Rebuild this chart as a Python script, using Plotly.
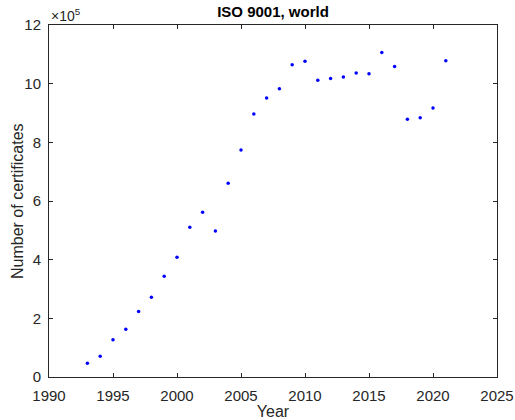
import plotly.graph_objects as go

# ISO 9001 certificates issued worldwide, per year
years = [1993, 1994, 1995, 1996, 1997, 1998, 1999, 2000, 2001, 2002, 2003,
         2004, 2005, 2006, 2007, 2008, 2009, 2010, 2011, 2012, 2013, 2014,
         2015, 2016, 2017, 2018, 2019, 2020, 2021]
certificates = [46600, 70400, 127400, 162700, 223300, 271800, 343600, 408600,
                510600, 561700, 497900, 660100, 773900, 896900, 951500,
                982800, 1064800, 1076500, 1011600, 1017300, 1022900, 1036300,
                1033900, 1105900, 1058500, 878700, 883500, 916800, 1077900]

scale = 1e5
x_ticks = [1990, 1995, 2000, 2005, 2010, 2015, 2020, 2025]
y_ticks = [0, 2, 4, 6, 8, 10, 12]

ink = "#262626"
font = "Liberation Sans, Arial, Helvetica, sans-serif"

W, H = 515, 420
L, R, T, B = 49, 18, 25, 43
plot_w = W - L - R

fig = go.Figure(
    go.Scatter(
        x=years,
        y=[c / scale for c in certificates],
        mode="markers",
        marker=dict(color="#0000ff", size=3.5, line=dict(width=0)),
    )
)

axis_common = dict(
    showgrid=False,
    zeroline=False,
    showline=True,
    linecolor=ink,
    linewidth=1,
    mirror="allticks",
    ticks="inside",
    ticklen=4,
    tickcolor=ink,
    automargin=False,
    tickfont=dict(family=font, size=15, color=ink),
)

fig.update_xaxes(
    range=[1990, 2025],
    tickvals=x_ticks,
    ticklabelstandoff=5,
    title=dict(text="Year", font=dict(family=font, size=16, color=ink), standoff=3),
    **axis_common,
)
fig.update_yaxes(
    range=[0, 12],
    tickvals=y_ticks,
    ticklabelstandoff=4,
    **axis_common,
)

fig.update_layout(
    width=W,
    height=H,
    margin=dict(l=L, r=R, t=T, b=B, autoexpand=False),
    paper_bgcolor="white",
    plot_bgcolor="white",
    showlegend=False,
    title=dict(
        text="<b>ISO 9001, world</b>",
        x=(L + W - R) / 2 / W,
        xanchor="center",
        y=1 - 12 / H,
        yanchor="middle",
        font=dict(family=font, size=15, color="black"),
    ),
    annotations=[
        dict(
            text="×10<sup>5</sup>",
            xref="paper",
            yref="paper",
            x=0,
            y=1,
            xanchor="left",
            yanchor="bottom",
            yshift=-1,
            showarrow=False,
            font=dict(family=font, size=14, color=ink),
        ),
        dict(
            text="Number of certificates",
            xref="paper",
            yref="paper",
            x=(17 - L) / plot_w,
            y=0.5,
            xanchor="center",
            yanchor="middle",
            textangle=-90,
            showarrow=False,
            font=dict(family=font, size=16, color=ink),
        ),
    ],
)

fig.write_html("out.html")
